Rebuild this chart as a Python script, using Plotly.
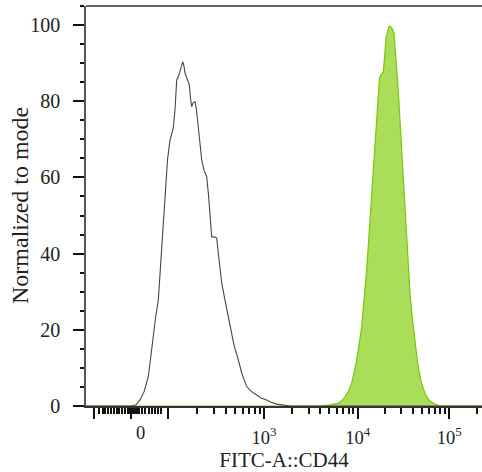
import numpy as np
import plotly.graph_objects as go

# ---- data (x in display channels of the biexponential FITC axis, y normalized to mode) ----
control_channel = [0, 114.25, 125, 135, 145, 155.75, 162.5, 168.25, 173.75, 180.75, 185, 189.25,
                   193.25, 197.5, 203.75, 210, 218.25, 222.5, 226.75, 231.25, 235, 238.75, 241.75,
                   245, 247.5, 252.5, 258.25, 261.25, 264.25, 267.5, 272.5, 276.25, 280.75, 285,
                   289.25, 295, 301.75, 306.25, 310, 314.25, 320, 326.75, 331.25, 335, 339.25,
                   347.5, 360, 370, 380.75, 390, 401.75, 412.5, 426.75, 437.5, 451.75, 462.5,
                   476.75, 490, 510, 990]
control_mode = [0, 0, 0.3, 1.6, 3.7, 7.7, 13.4, 19.2, 23.1, 27.8, 34.4, 40.9,
                48.8, 55.9, 64.6, 69.8, 73.0, 77.7, 85.6, 86.6, 87.7, 89.2, 90.4,
                89.2, 87.4, 86.1, 84.3, 80.8, 78.6, 79.5, 79.9, 77.7, 73.3, 68.5,
                64.6, 61.9, 60.2, 55.4, 50.1, 44.4, 44.4, 44.1, 39.6, 35.2, 32.3,
                27.8, 20.8, 16.0, 12.1, 8.4, 5.1, 3.9, 2.9, 2.1, 1.6, 1.0,
                0.5, 0.3, 0, 0]

cd44_channel = [0, 585, 610, 630.75, 638.75, 647.5, 656.25, 664.25, 670, 676.75, 682.5, 689.25,
                695, 701.75, 707.5, 714.25, 718.75, 722.5, 726.75, 730.75, 733.75, 736.75,
                743.25, 746.25, 750, 755.75, 758.75, 762.5, 766.25, 770, 773.75, 778.25,
                781.75, 785, 789.25, 793.25, 797.5, 801.75, 805.75, 810, 816.25, 822.5,
                828.75, 835, 842.5, 851.75, 860, 868.25, 885, 990]
cd44_mode = [0, 0, 0.3, 0.7, 1.3, 2.4, 3.9, 6.0, 8.7, 12.1, 16.0, 20.8,
             27.8, 35.7, 44.9, 55.8, 63.3, 70.7, 77.7, 83.8, 86.1, 86.9,
             87.7, 91.3, 96.5, 99.1, 99.7, 99.5, 98.9, 97.8, 93.4, 86.4,
             80.8, 75.1, 67.7, 60.2, 52.5, 44.4, 37.0, 29.6, 22.6, 16.5,
             11.5, 7.7, 4.7, 2.4, 1.3, 0.7, 0, 0]

# axis ticks (fluorescence value -> display channel)
major_values = [-100, 0, 100, 1000, 10000, 100000]
major_channels = [20.75, 112.5, 204.25, 445, 679.25, 908.25]
major_labels = ["", "", "", "10<sup>3</sup>", "10<sup>4</sup>", "10<sup>5</sup>"]
near_zero_minor_channels = [33.25, 41.75, 48.25, 55, 63.25, 70, 77.5, 83.25, 89.25, 98.25,
                            103.75, 107.5, 111, 115, 118.75, 122.5,
                            126.75, 133.25, 140, 148.25, 158.25, 165, 172.5, 180, 186.75]
decade_channels = [204.25, 445, 679.25, 908.25, 1137]

minor_x = list(near_zero_minor_channels)
for lo, hi in zip(decade_channels[:-1], decade_channels[1:]):
    for m in range(2, 10):
        minor_x.append(lo + (hi - lo) * np.log10(m))

FONT = "Liberation Serif"

fig = go.Figure()
fig.add_trace(go.Scatter(
    x=cd44_channel, y=cd44_mode, mode="lines", fill="tozeroy",
    line=dict(color="rgb(122,198,10)", width=1.2),
    fillcolor="rgb(170,221,90)", hoverinfo="skip", showlegend=False))
fig.add_trace(go.Scatter(
    x=control_channel, y=control_mode, mode="lines",
    line=dict(color="rgb(70,70,70)", width=1.1),
    hoverinfo="skip", showlegend=False))

fig.update_layout(
    width=482, height=472,
    margin=dict(l=86, r=0, t=6, b=66, autoexpand=False),
    paper_bgcolor="white", plot_bgcolor="white",
    font=dict(family=FONT, size=18, color="#222"),
    xaxis=dict(
        range=[0, 990], showgrid=False, zeroline=False, automargin=False,
        showline=True, linecolor="#333", linewidth=1.5,
        ticks="outside", ticklen=11, tickwidth=1.5, tickcolor="#111",
        tickmode="array", tickvals=major_channels, ticktext=major_labels,
        ticklabelstandoff=3,
        tickfont=dict(family=FONT, size=18.5, color="#222"),
        minor=dict(tickmode="array", tickvals=minor_x, ticks="outside",
                   ticklen=6, tickwidth=1.5, tickcolor="#111"),
        title=dict(text="FITC-A::CD44", font=dict(family=FONT, size=21, color="#222"),
                   standoff=3),
    ),
    yaxis=dict(
        range=[0, 105], showgrid=False, zeroline=False, automargin=False,
        showline=True, linecolor="#555", linewidth=1.5,
        ticks="outside", ticklen=11, tickwidth=1.5, tickcolor="#111",
        tickmode="array", tickvals=[0, 20, 40, 60, 80, 100],
        ticklabelstandoff=9,
        tickfont=dict(family=FONT, size=20, color="#222"),
        minor=dict(dtick=5, tick0=0, ticks="outside", ticklen=4,
                   tickwidth=1.5, tickcolor="#111"),
    ),
    shapes=[dict(type="line", xref="paper", yref="paper", x0=0, x1=1, y0=1, y1=1,
                 line=dict(color="#333", width=1.5))],
    annotations=[
        dict(text="0", x=135, y=0, xref="x", yref="paper",
             yanchor="top", xanchor="center", yshift=-15, showarrow=False,
             font=dict(family=FONT, size=18.5, color="#222")),
        dict(text="Normalized to mode", x=0, y=52.5, xref="paper", yref="y",
             xanchor="center", yanchor="middle", xshift=-66, textangle=-90,
             showarrow=False, font=dict(family=FONT, size=24, color="#222")),
    ],
)

fig.write_html("out.html", config={"displayModeBar": False},
               post_script="document.body.style.margin='0';document.body.style.overflow='hidden';")
